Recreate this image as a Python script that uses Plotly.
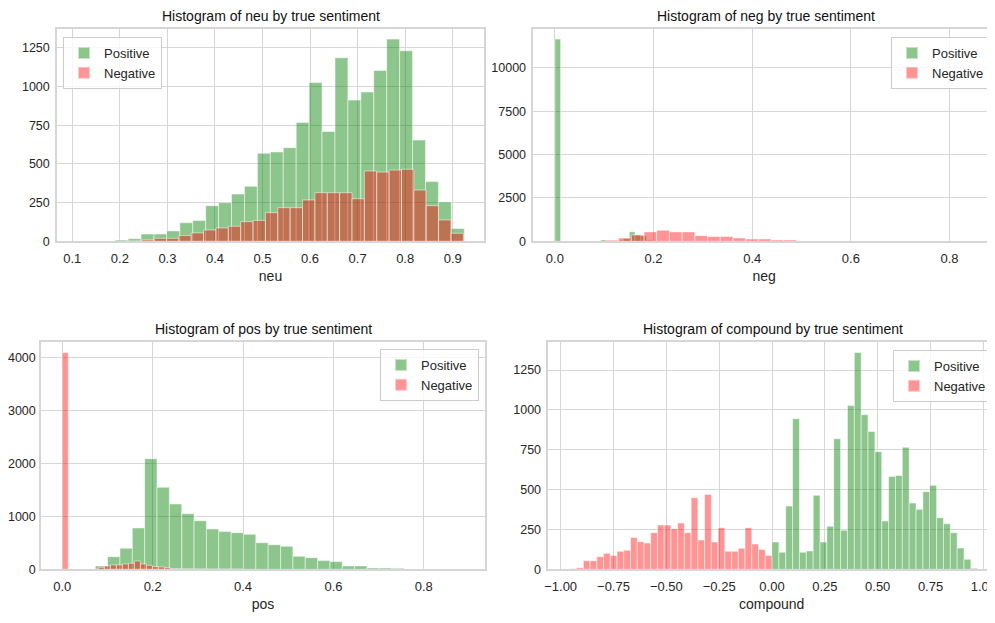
import plotly.graph_objects as go

# ---------------- data (histogram counts) ----------------
# neu
neu_pos_start, neu_pos_width = 0.1086, 0.02719
neu_pos_counts = [1, 0, 0, 9, 17, 47, 47, 67, 120, 135, 230, 250, 305, 355, 568,
                  577, 605, 768, 1026, 710, 1185, 912, 964, 1104, 1306, 1231, 654, 387, 254, 82]
neu_neg_start, neu_neg_width = 0.142, 0.02601
neu_neg_counts = [0, 0, 0, 0, 9, 19, 19, 37, 54, 73, 86, 97, 127, 135, 185,
                  217, 217, 267, 314, 314, 314, 275, 454, 447, 460, 465, 331, 230, 138, 52]
# neg
neg_pos_start, neg_pos_width = 0.0, 0.0116
neg_pos_counts = [11650, 0, 0, 0, 0, 0, 0, 20, 80, 30, 40, 60, 150, 550, 380,
                  300, 60, 30, 10, 5, 3, 2, 1, 1, 0, 0, 0, 0, 0, 1]
neg_neg_start, neg_neg_width = 0.1034, 0.02577
neg_neg_counts = [58, 190, 365, 540, 634, 540, 540, 326, 270, 270, 190, 134, 134, 77, 77,
                  10, 6, 4, 3, 2, 1, 1, 1, 0, 0, 0, 0, 0, 0, 1]
# pos
pos_pos_start, pos_pos_width = 0.073, 0.02733
pos_pos_counts = [63, 239, 396, 780, 2088, 1547, 1233, 1050, 918, 761, 711, 692, 660, 503, 465,
                  434, 245, 220, 164, 145, 63, 63, 25, 25, 19, 5, 3, 2, 1, 1]
pos_neg_start, pos_neg_width = 0.0, 0.0133
pos_neg_counts = [4090, 0, 0, 0, 0, 0, 38, 63, 82, 82, 100, 113, 157, 100, 75,
                  50, 44, 31, 12, 8, 5, 4, 3, 2, 1, 1, 1, 0, 0, 1]
# compound
cmp_pos_start, cmp_pos_width = 0.0, 0.03245
cmp_pos_counts = [171, 107, 397, 945, 107, 115, 464, 171, 270, 819, 245, 1028, 1360, 970, 865,
                  738, 303, 583, 589, 765, 416, 376, 487, 527, 324, 286, 230, 134, 63, 6]
cmp_neg_start, cmp_neg_width = -0.9565, 0.03188
cmp_neg_counts = [3, 10, 54, 54, 79, 100, 86, 113, 119, 199, 173, 165, 230, 278, 278,
                  255, 290, 230, 449, 184, 470, 171, 261, 113, 113, 132, 261, 159, 125, 86]

titles = ["Histogram of neu by true sentiment", "Histogram of neg by true sentiment",
          "Histogram of pos by true sentiment", "Histogram of compound by true sentiment"]
xlabels = ["neu", "neg", "pos", "compound"]

neu_xticks = [0.1, 0.2, 0.3, 0.4, 0.5, 0.6, 0.7, 0.8, 0.9]
neu_xtext = ["0.1", "0.2", "0.3", "0.4", "0.5", "0.6", "0.7", "0.8", "0.9"]
neu_yticks = [0, 250, 500, 750, 1000, 1250]
neg_xticks = [0.0, 0.2, 0.4, 0.6, 0.8]
neg_xtext = ["0.0", "0.2", "0.4", "0.6", "0.8"]
neg_yticks = [0, 2500, 5000, 7500, 10000]
pos_xticks = [0.0, 0.2, 0.4, 0.6, 0.8]
pos_xtext = ["0.0", "0.2", "0.4", "0.6", "0.8"]
pos_yticks = [0, 1000, 2000, 3000, 4000]
cmp_xticks = [-1.0, -0.75, -0.5, -0.25, 0.0, 0.25, 0.5, 0.75, 1.0]
cmp_xtext = ["\u22121.00", "\u22120.75", "\u22120.50", "\u22120.25", "0.00", "0.25", "0.50", "0.75", "1.00"]
cmp_yticks = [0, 250, 500, 750, 1000, 1250]

# ---------------- styling ----------------
# the page body has an 8px margin, so the figure is 8px smaller and coordinates shift by 8px
OFF = 8
W, H = 995 - OFF, 623 - OFF
GREEN = "rgba(0,128,0,0.45)"
RED = "rgba(255,0,0,0.42)"
EDGE = "rgba(255,255,255,0.5)"
FONT = "Liberation Sans, Arial, sans-serif"
GRID = "#d6d6d6"
TXT = "#262626"
TICK = 13
YTICK = 12.5
LAB = 14

def px_x(a, b):
    return [(a - OFF) / W, min(1.0, (b - OFF) / W)]

def px_y(top, bottom):
    return [1 - (bottom - OFF) / H, 1 - (top - OFF) / H]

panels = [
    dict(counts=(neu_pos_counts, neu_neg_counts), starts=(neu_pos_start, neu_neg_start),
         widths=(neu_pos_width, neu_neg_width), xdom=px_x(57, 484), ydom=px_y(29, 241.3),
         xr=[0.0678, 0.9658], xt=(neu_xticks, neu_xtext), yt=neu_yticks, tcx=270.5, ytl=3,
         leg=dict(x=(63 - OFF) / W, y=1 - (37 - OFF) / H, xanchor="left", yanchor="top")),
    dict(counts=(neg_pos_counts, neg_neg_counts), starts=(neg_pos_start, neg_neg_start),
         widths=(neg_pos_width, neg_neg_width), xdom=px_x(533.3, 995), ydom=px_y(29, 241.3),
         xr=[-0.0438, 0.8923], xt=(neg_xticks, neg_xtext), yt=neg_yticks, tcx=766, ytl=3,
         leg=dict(x=(990 - OFF) / W, y=1 - (37 - OFF) / H, xanchor="right", yanchor="top")),
    dict(counts=(pos_pos_counts, pos_neg_counts), starts=(pos_pos_start, pos_neg_start),
         widths=(pos_pos_width, pos_neg_width), xdom=px_x(41, 485), ydom=px_y(341.7, 569.3),
         xr=[-0.0471, 0.9354], xt=(pos_xticks, pos_xtext), yt=pos_yticks, tcx=263, ytl=1,
         leg=dict(x=(479 - OFF) / W, y=1 - (349 - OFF) / H, xanchor="right", yanchor="top")),
    dict(counts=(cmp_pos_counts, cmp_neg_counts), starts=(cmp_pos_start, cmp_neg_start),
         widths=(cmp_pos_width, cmp_neg_width), xdom=px_x(548.3, 995), ydom=px_y(341.7, 569.3),
         xr=[-1.0585, 1.0550], xt=(cmp_xticks, cmp_xtext), yt=cmp_yticks, tcx=773, ytl=3,
         leg=dict(x=(992 - OFF) / W, y=1 - (350 - OFF) / H, xanchor="right", yanchor="top")),
]

fig = go.Figure()
layout = dict(width=W, height=H, margin=dict(l=0, r=0, t=0, b=0, autoexpand=False),
              paper_bgcolor="white", plot_bgcolor="white", barmode="overlay",
              font=dict(family=FONT, size=TICK, color=TXT), annotations=[])

for i, p in enumerate(panels):
    n = i + 1
    xa = "x" if n == 1 else f"x{n}"
    ya = "y" if n == 1 else f"y{n}"
    lg = "legend" if n == 1 else f"legend{n}"
    ymax = 0
    for name, counts, start, width, color in [
            ("Positive", p["counts"][0], p["starts"][0], p["widths"][0], GREEN),
            ("Negative", p["counts"][1], p["starts"][1], p["widths"][1], RED)]:
        centers = [start + (k + 0.5) * width for k in range(len(counts))]
        ymax = max(ymax, max(counts))
        fig.add_trace(go.Bar(x=centers, y=counts, width=width, name=name,
                             xaxis=xa, yaxis=ya, legend=lg,
                             marker=dict(color=color, line=dict(color=EDGE, width=1))))
    ax = dict(domain=p["xdom"], range=p["xr"], anchor=ya, showgrid=True, gridcolor=GRID,
              gridwidth=1, showline=True, linecolor=GRID, linewidth=1.5, mirror=True,
              tickmode="array", tickvals=p["xt"][0], ticktext=p["xt"][1],
              ticks="outside", ticklen=4, tickcolor="rgba(0,0,0,0)", automargin=False,
              ticklabeloverflow="allow",
              tickfont=dict(size=TICK, color=TXT), zeroline=False,
              title=dict(text=xlabels[i], font=dict(size=LAB, color=TXT), standoff=7))
    ay = dict(domain=p["ydom"], range=[0, ymax * 1.05], anchor=xa, showgrid=True,
              gridcolor=GRID, gridwidth=1, showline=True, linecolor=GRID, linewidth=1.5,
              mirror=True, tickmode="array", tickvals=p["yt"],
              ticktext=[str(v) for v in p["yt"]], automargin=False,
              ticks="outside", ticklen=p["ytl"], tickcolor="rgba(0,0,0,0)",
              ticklabeloverflow="allow",
              tickfont=dict(size=YTICK, color=TXT), zeroline=False)
    layout["xaxis" if n == 1 else f"xaxis{n}"] = ax
    layout["yaxis" if n == 1 else f"yaxis{n}"] = ay
    leg = dict(p["leg"], bgcolor="rgba(255,255,255,0.8)", bordercolor="#cccccc",
               borderwidth=1, font=dict(size=TICK, color=TXT), tracegroupgap=2,
               itemsizing="constant")
    layout[lg] = leg
    layout["annotations"].append(dict(
        text=titles[i], xref="paper", yref="paper", x=(p["tcx"] - OFF) / W,
        y=p["ydom"][1], xanchor="center", yanchor="bottom", yshift=3, showarrow=False,
        font=dict(size=LAB, color="#111111")))

fig.update_layout(**layout)
fig.write_html("out.html")
